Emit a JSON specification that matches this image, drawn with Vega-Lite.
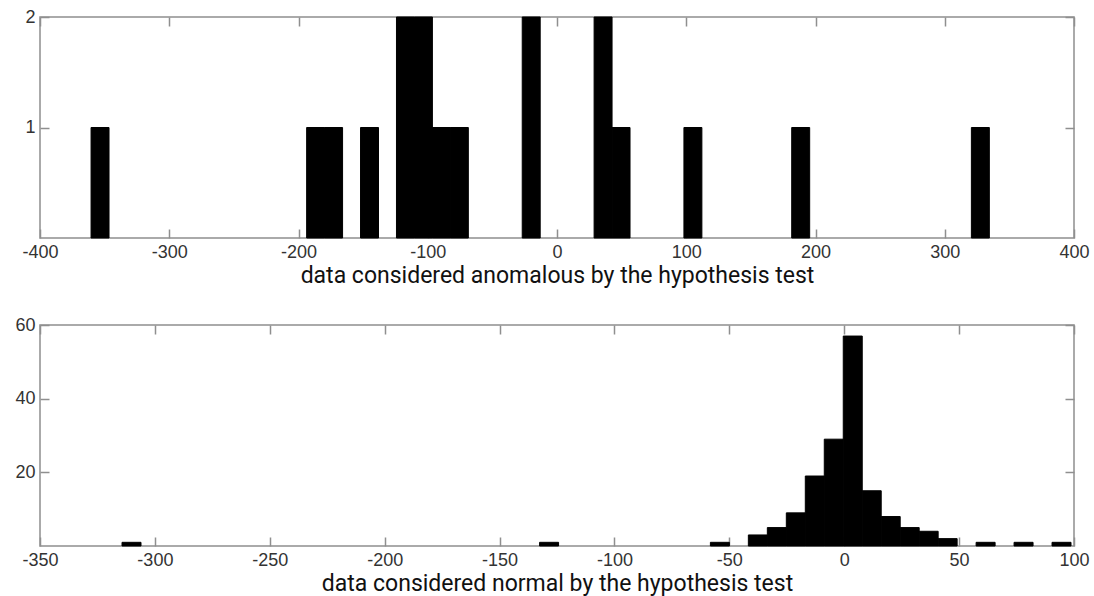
{
  "$schema": "https://vega.github.io/schema/vega-lite/v6.json",
  "padding": {"left": 14, "top": 7, "right": 5, "bottom": 5},
  "background": "white",
  "spacing": 87,
  "bounds": "flush",
  "config": {
    "view": {"stroke": "#8f8f8f", "strokeWidth": 1.5},
    "axis": {
      "labelFont": "Liberation Sans",
      "labelFontSize": 18,
      "labelColor": "#333333",
      "titleFont": "Roboto",
      "titleFontSize": 23,
      "titleFontWeight": "normal",
      "titleColor": "#111111",
      "domain": false,
      "ticks": false,
      "grid": true,
      "gridColor": "#8f8f8f",
      "gridWidth": 1.5,
      "gridOpacity": 1,
      "labelPadding": 5,
      "labelFlush": false,
      "labelOverlap": false,
      "labelExpr": "toString(datum.value)"
    }
  },
  "datasets": {
    "anomalous": [
      {"bin_start": -360.5, "bin_end": -346.6, "count": 1},
      {"bin_start": -193.7, "bin_end": -179.8, "count": 1},
      {"bin_start": -179.8, "bin_end": -165.9, "count": 1},
      {"bin_start": -152.0, "bin_end": -138.1, "count": 1},
      {"bin_start": -124.2, "bin_end": -110.3, "count": 2},
      {"bin_start": -110.3, "bin_end": -96.4, "count": 2},
      {"bin_start": -96.4, "bin_end": -82.5, "count": 1},
      {"bin_start": -82.5, "bin_end": -68.6, "count": 1},
      {"bin_start": -26.9, "bin_end": -13.0, "count": 2},
      {"bin_start": 28.7, "bin_end": 42.6, "count": 2},
      {"bin_start": 42.6, "bin_end": 56.5, "count": 1},
      {"bin_start": 98.2, "bin_end": 112.1, "count": 1},
      {"bin_start": 181.6, "bin_end": 195.5, "count": 1},
      {"bin_start": 320.6, "bin_end": 334.5, "count": 1}
    ],
    "normal": [
      {"bin_start": -314.3, "bin_end": -306.04, "count": 1},
      {"bin_start": -132.58, "bin_end": -124.32, "count": 1},
      {"bin_start": -58.24, "bin_end": -49.98, "count": 1},
      {"bin_start": -41.72, "bin_end": -33.46, "count": 3},
      {"bin_start": -33.46, "bin_end": -25.2, "count": 5},
      {"bin_start": -25.2, "bin_end": -16.94, "count": 9},
      {"bin_start": -16.94, "bin_end": -8.68, "count": 19},
      {"bin_start": -8.68, "bin_end": -0.42, "count": 29},
      {"bin_start": -0.42, "bin_end": 7.84, "count": 57},
      {"bin_start": 7.84, "bin_end": 16.1, "count": 15},
      {"bin_start": 16.1, "bin_end": 24.36, "count": 8},
      {"bin_start": 24.36, "bin_end": 32.62, "count": 5},
      {"bin_start": 32.62, "bin_end": 40.88, "count": 4},
      {"bin_start": 40.88, "bin_end": 49.14, "count": 2},
      {"bin_start": 57.4, "bin_end": 65.66, "count": 1},
      {"bin_start": 73.92, "bin_end": 82.18, "count": 1},
      {"bin_start": 90.44, "bin_end": 98.7, "count": 1}
    ]
  },
  "vconcat": [
    {
      "width": 1034,
      "height": 221,
      "data": {"name": "anomalous"},
      "mark": {"type": "bar", "color": "#000000", "stroke": "#000000", "strokeWidth": 1},
      "encoding": {
        "x": {
          "field": "bin_start",
          "type": "quantitative",
          "scale": {"domain": [-400, 400], "nice": false, "zero": false},
          "axis": {
            "values": [-400, -300, -200, -100, 0, 100, 200, 300, 400],
            "title": "data considered anomalous by the hypothesis test",
            "titlePadding": 3,
            "gridDash": [9, 203]
          }
        },
        "x2": {"field": "bin_end"},
        "y": {
          "field": "count",
          "type": "quantitative",
          "scale": {"domain": [0, 2], "nice": false},
          "axis": {"values": [1, 2], "title": null, "gridDash": [9, 1016]}
        },
        "y2": {"datum": 0}
      }
    },
    {
      "width": 1034,
      "height": 221,
      "data": {"name": "normal"},
      "mark": {"type": "bar", "color": "#000000", "stroke": "#000000", "strokeWidth": 1},
      "encoding": {
        "x": {
          "field": "bin_start",
          "type": "quantitative",
          "scale": {"domain": [-350, 100], "nice": false, "zero": false},
          "axis": {
            "values": [-350, -300, -250, -200, -150, -100, -50, 0, 50, 100],
            "title": "data considered normal by the hypothesis test",
            "titlePadding": 3,
            "gridDash": [9, 203]
          }
        },
        "x2": {"field": "bin_end"},
        "y": {
          "field": "count",
          "type": "quantitative",
          "scale": {"domain": [0, 60], "nice": false},
          "axis": {"values": [20, 40, 60], "title": null, "gridDash": [9, 1016]}
        },
        "y2": {"datum": 0}
      }
    }
  ]
}
